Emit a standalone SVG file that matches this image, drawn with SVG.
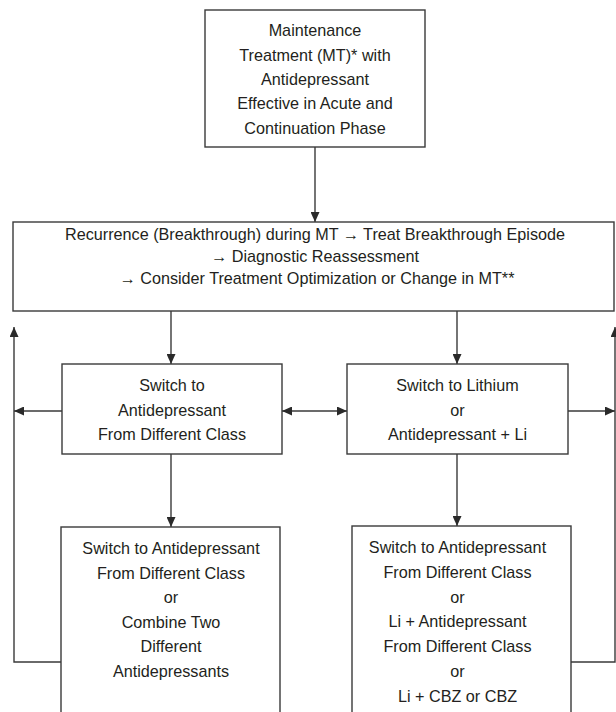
<svg xmlns="http://www.w3.org/2000/svg" width="616" height="712" viewBox="0 0 616 712">
<defs>
<marker id="ah" markerUnits="userSpaceOnUse" markerWidth="10" markerHeight="9" viewBox="0 0 10 9" refX="10" refY="4.5" orient="auto-start-reverse">
<path d="M0,0 L10,4.5 L0,9 z" fill="#2a2a2a"/>
</marker>
<style>
.box{fill:#fff;stroke:#3a3a3a;stroke-width:1.4}
.t{font-family:"Liberation Sans",Arial,sans-serif;font-size:16.2px;fill:#231f20;text-anchor:middle}
.c{fill:none;stroke:#3a3a3a;stroke-width:1.4}
</style>
</defs>
<rect width="616" height="712" fill="#fff"/>
<g id="connectors">
<line class="c" x1="315" y1="147" x2="315" y2="222" marker-end="url(#ah)"/>
<line class="c" x1="171" y1="311" x2="171" y2="364" marker-end="url(#ah)"/>
<line class="c" x1="457" y1="311" x2="457" y2="364" marker-end="url(#ah)"/>
<line class="c" x1="282" y1="411" x2="347" y2="411" marker-start="url(#ah)" marker-end="url(#ah)"/>
<line class="c" x1="62" y1="411" x2="14" y2="411" marker-end="url(#ah)"/>
<line class="c" x1="568" y1="411" x2="615" y2="411" marker-end="url(#ah)"/>
<line class="c" x1="171" y1="454" x2="171" y2="527" marker-end="url(#ah)"/>
<line class="c" x1="457" y1="454" x2="457" y2="526" marker-end="url(#ah)"/>
<polyline class="c" points="61,662 14,662 14,327" marker-end="url(#ah)"/>
<polyline class="c" points="571,662 615,662 615,327" marker-end="url(#ah)"/>
</g>
<g id="maintenance">
<rect class="box" x="205" y="10" width="220" height="137"/>
<text class="t" x="315" y="36">Maintenance</text>
<text class="t" x="315" y="60.5">Treatment (MT)* with</text>
<text class="t" x="315" y="85">Antidepressant</text>
<text class="t" x="315" y="109">Effective in Acute and</text>
<text class="t" x="315" y="133.5">Continuation Phase</text>
</g>
<g id="recurrence">
<rect class="box" x="13" y="222" width="601" height="89"/>
<text class="t" x="315" y="240">Recurrence (Breakthrough) during MT → Treat Breakthrough Episode</text>
<text class="t" x="315" y="262">→ Diagnostic Reassessment</text>
<text class="t" x="317" y="284">→ Consider Treatment Optimization or Change in MT**</text>
</g>
<g id="switch-ad">
<rect class="box" x="62" y="364" width="220" height="90"/>
<text class="t" x="172" y="391">Switch to</text>
<text class="t" x="172" y="415.5">Antidepressant</text>
<text class="t" x="172" y="440">From Different Class</text>
</g>
<g id="switch-li">
<rect class="box" x="347" y="364" width="221" height="90"/>
<text class="t" x="457.5" y="391">Switch to Lithium</text>
<text class="t" x="457.5" y="415.5">or</text>
<text class="t" x="457.5" y="440">Antidepressant + Li</text>
</g>
<g id="lower-left">
<rect class="box" x="61" y="527" width="219" height="200"/>
<text class="t" x="171" y="554">Switch to Antidepressant</text>
<text class="t" x="171" y="578.6">From Different Class</text>
<text class="t" x="171" y="603.2">or</text>
<text class="t" x="171" y="627.8">Combine Two</text>
<text class="t" x="171" y="652.4">Different</text>
<text class="t" x="171" y="677">Antidepressants</text>
</g>
<g id="lower-right">
<rect class="box" x="352" y="526" width="219" height="200"/>
<text class="t" x="457.5" y="553">Switch to Antidepressant</text>
<text class="t" x="457.5" y="578">From Different Class</text>
<text class="t" x="457.5" y="602.5">or</text>
<text class="t" x="457.5" y="627">Li + Antidepressant</text>
<text class="t" x="457.5" y="652">From Different Class</text>
<text class="t" x="457.5" y="677">or</text>
<text class="t" x="457.5" y="702">Li + CBZ or CBZ</text>
</g>
</svg>
